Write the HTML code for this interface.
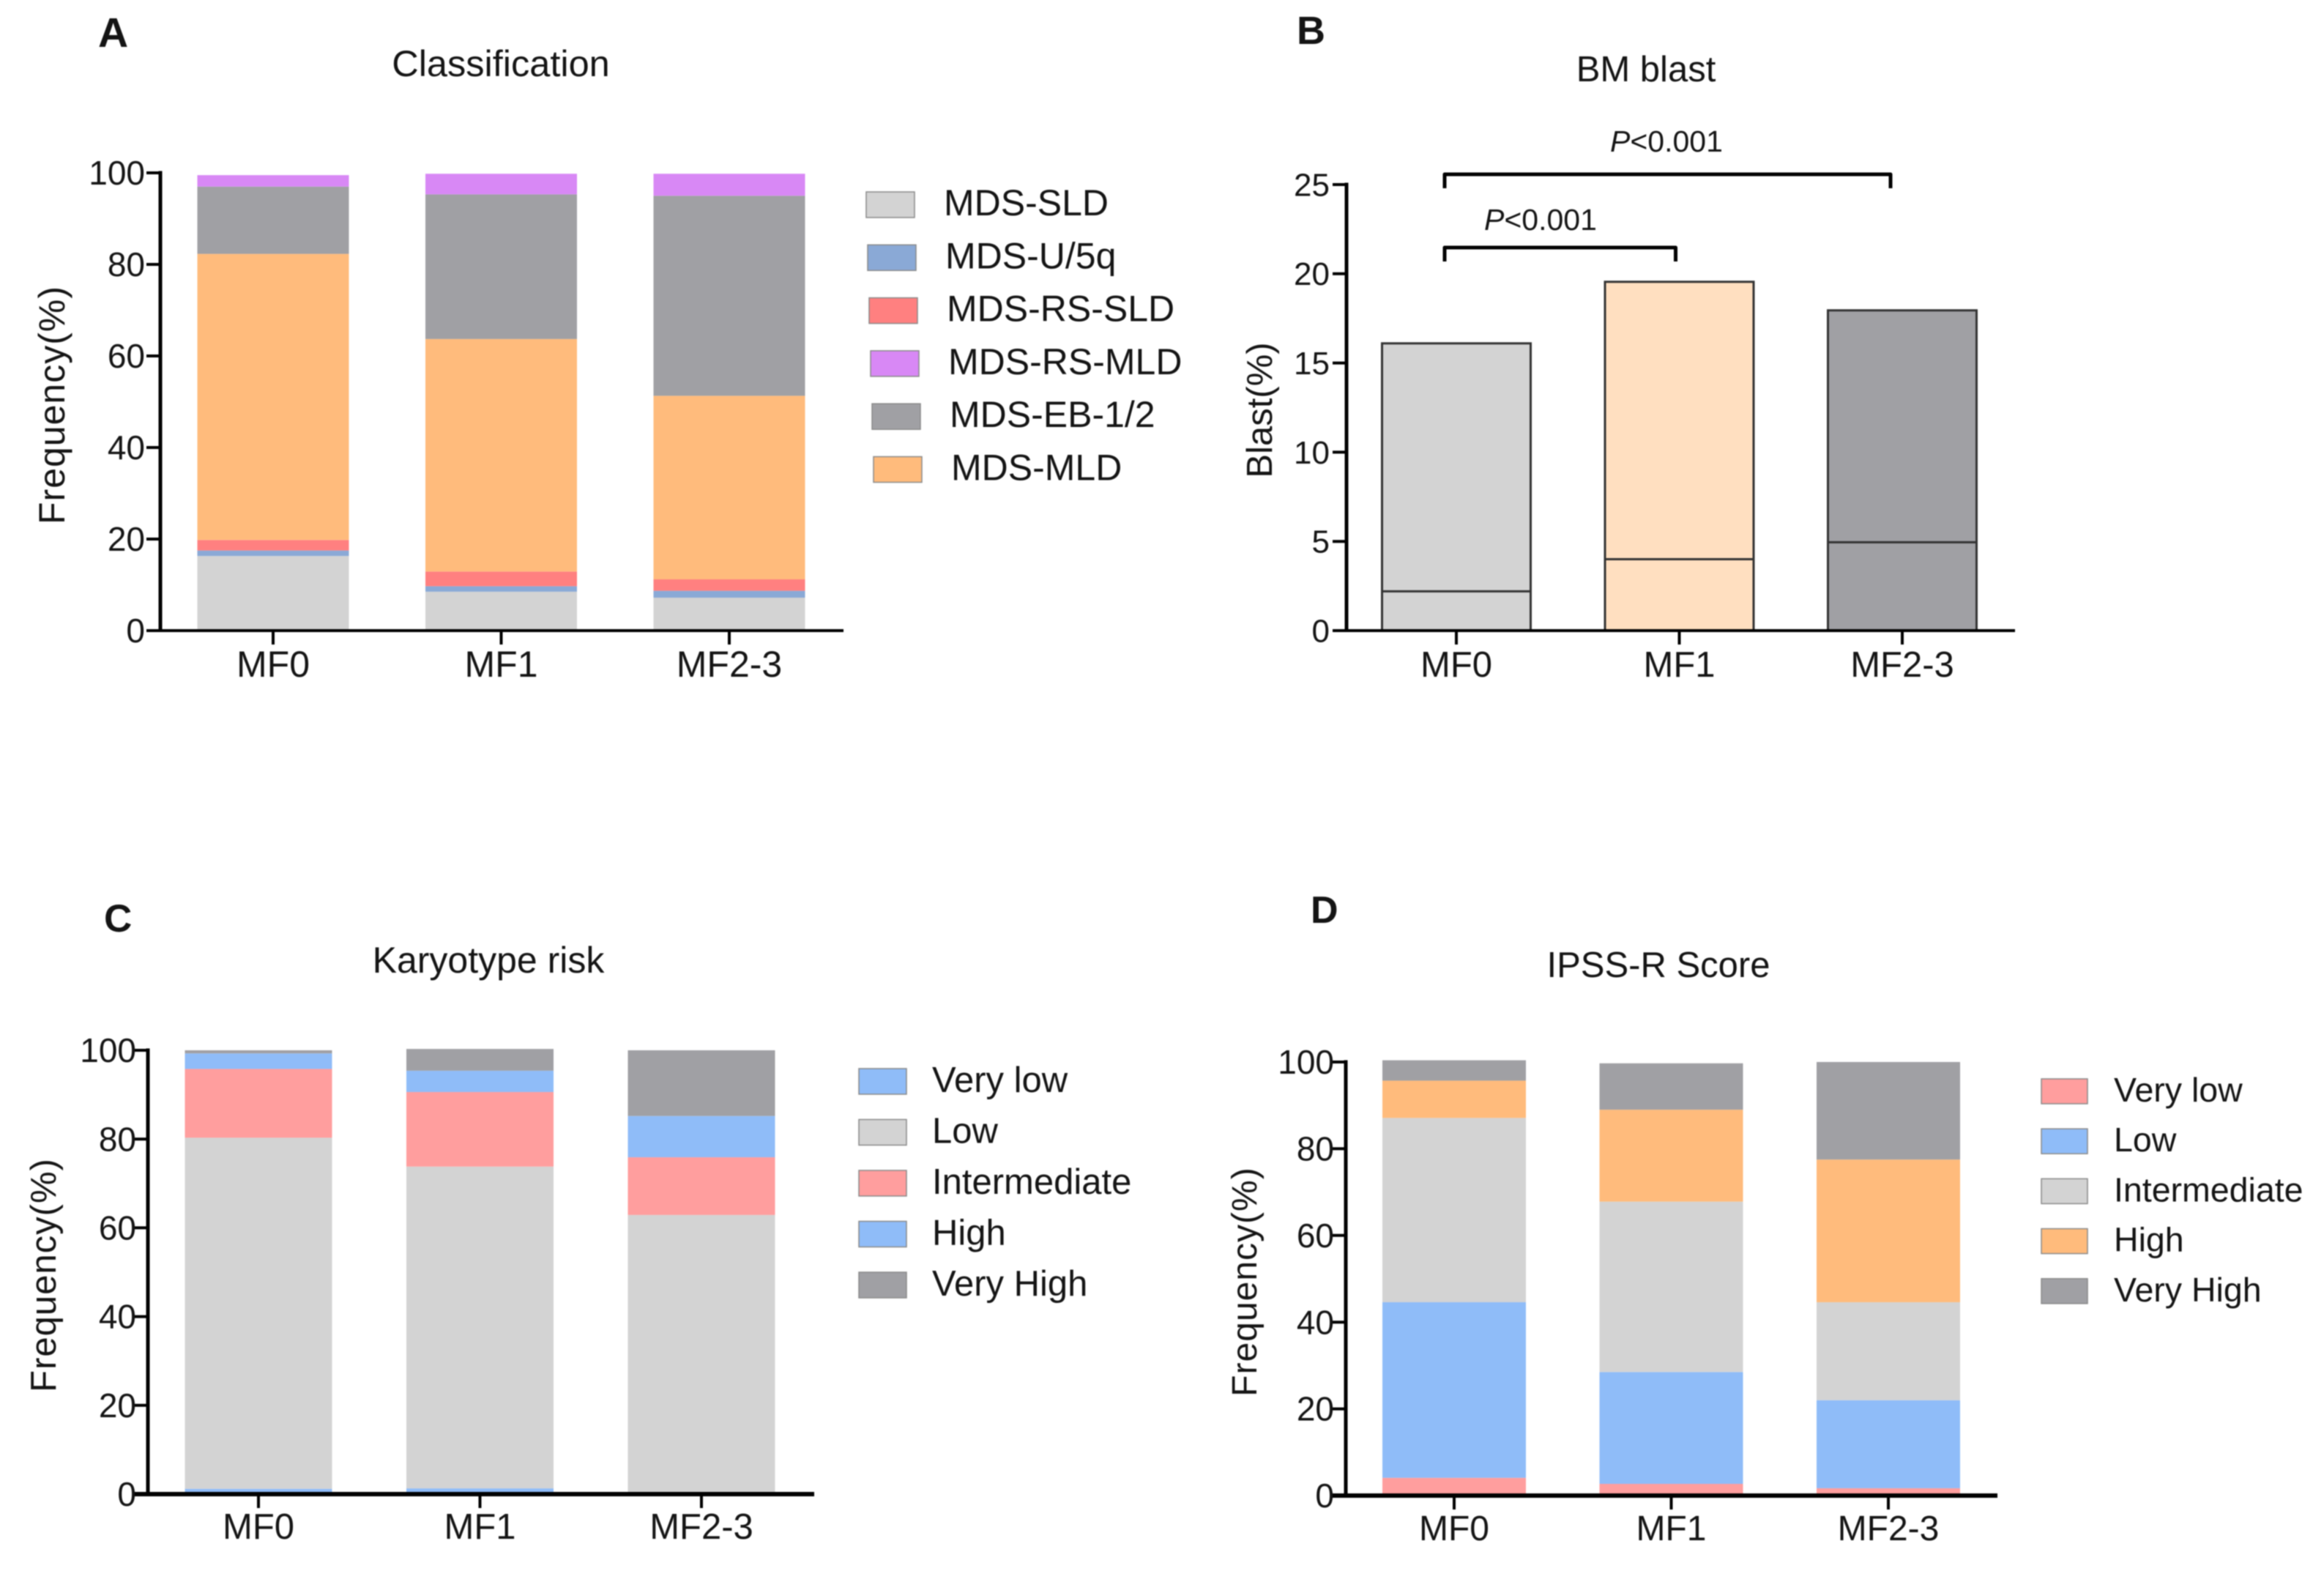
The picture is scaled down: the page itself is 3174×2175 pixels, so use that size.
<!DOCTYPE html>
<html lang="en">
<head>
<meta charset="utf-8">
<title>MF grade charts</title>
<style>
html,body{margin:0;padding:0;background:#fff;}
svg{display:block;filter:blur(0.7px);}
text{font-family:"Liberation Sans",sans-serif;fill:#141414;}
</style>
</head>
<body>
<svg id="figure" xmlns="http://www.w3.org/2000/svg" width="3174" height="2175" viewBox="0 0 3174 2175">
<rect x="0" y="0" width="3174" height="2175" fill="#ffffff"></rect>
</svg>
<script>
// ---------- Data ----------
const categories = ['MF0', 'MF1', 'MF2-3'];
const frequencyTicks = [0, 20, 40, 60, 80, 100];
const blastTicks = [0, 5, 10, 15, 20, 25];

// Panel A: segment sizes per category, bottom to top
const classSeriesNames = ['MDS-SLD', 'MDS-U/5q', 'MDS-RS-SLD', 'MDS-MLD', 'MDS-EB-1/2', 'MDS-RS-MLD'];
const classSLD = [16.3, 8.5, 7.2];
const classU5q = [1.2, 1.2, 1.5];
const classRSSLD = [2.3, 3.2, 2.5];
const classMLD = [62.5, 50.8, 40.1];
const classEB = [14.7, 31.6, 43.7];
const classRSMLD = [2.5, 4.5, 4.8];
const classLegend = ['MDS-SLD', 'MDS-U/5q', 'MDS-RS-SLD', 'MDS-RS-MLD', 'MDS-EB-1/2', 'MDS-MLD'];

// Panel B
const blastMean = [16.1, 19.55, 17.95];
const blastMedian = [2.2, 4.0, 4.95];

// Panel C
const karyoSeriesNames = ['Very low', 'Low', 'Intermediate', 'High', 'Very High'];
const karyoVeryLow = [1.2, 1.3, 0];
const karyoLow = [79.1, 72.5, 62.9];
const karyoIntermediate = [15.5, 16.8, 13.0];
const karyoHigh = [3.5, 4.8, 9.3];
const karyoVeryHigh = [0.7, 4.9, 14.8];

// Panel D
const ipssSeriesNames = ['Very low', 'Low', 'Intermediate', 'High', 'Very High'];
const ipssVeryLow = [4.1, 2.7, 1.7];
const ipssLow = [40.5, 25.8, 20.3];
const ipssIntermediate = [42.5, 39.3, 22.6];
const ipssHigh = [8.6, 21.2, 32.9];
const ipssVeryHigh = [4.7, 10.7, 22.5];

// ---------- Colours ----------
const GRAY = '#d3d3d3', DARK = '#a0a0a4', ORANGE = '#ffbb7c', PINK = '#ff9e9e', SKY = '#8fbcf8';
const classColors = {'MDS-SLD': GRAY, 'MDS-U/5q': '#8aa9d6', 'MDS-RS-SLD': '#ff8080', 'MDS-RS-MLD': '#d888f5', 'MDS-EB-1/2': DARK, 'MDS-MLD': ORANGE};
const karyoColors = [SKY, GRAY, PINK, SKY, DARK];
const ipssColors = [PINK, SKY, GRAY, ORANGE, DARK];

// ---------- Helpers ----------
const SVGNS = 'http://www.w3.org/2000/svg';
const root = document.getElementById('figure');
function make(parent, tag, props) {
  const node = document.createElementNS(SVGNS, tag);
  for (const k in props) node.setAttribute(k, props[k]);
  parent.appendChild(node);
  return node;
}
function label(parent, str, x, y, size, anchor, weight) {
  const node = make(parent, 'text', {x: x, y: y, 'font-size': size, 'text-anchor': anchor || 'start', 'font-weight': weight || 'normal'});
  node.textContent = str;
  return node;
}
function slug(s) {
  return s.toLowerCase().replace(/[^a-z0-9]+/g, '-');
}
function yScale(p, v) {
  return p.y0 - v * (p.y0 - p.yTop) / p.max;
}
function xCenter(p, i) {
  return p.c0 + i * p.step;
}

function drawFrame(p, group, ticks) {
  const letter = label(group, p.letter, p.letterX, p.letterY, p.letterSize, 'start', 'bold');
  
  

  const title = label(group, p.title, p.titleX, p.titleY, p.titleSize, 'middle');
  
  

  const yTitle = label(group, p.yTitle, 0, 0, p.yTitleSize, 'middle');
  yTitle.setAttribute('transform', 'translate(' + p.yTitleX + ',' + p.yTitleY + ') rotate(-90)');
  yTitle.setAttribute('letter-spacing', p.yTitleSpacing);
  
  

  const yAxis = make(group, 'line', {x1: p.left, x2: p.left, y1: p.yTop - p.axisW / 2, y2: p.y0, stroke: '#000', 'stroke-width': p.axisW});
  
  

  const xAxis = make(group, 'line', {x1: p.left - p.tickLen, x2: p.right, y1: p.y0, y2: p.y0, stroke: '#000', 'stroke-width': p.xAxisW});
  
  

  ticks.forEach(function (t) {
    const yy = yScale(p, t);
    const tick = make(group, 'line', {x1: p.left - p.tickLen, x2: p.left, y1: yy, y2: yy, stroke: '#000', 'stroke-width': 4});
    
    
    const tl = label(group, String(t), p.left - p.tickLen - p.tickGap, yy + p.tickSize * 0.35, p.tickSize, 'end');
    
    
  });

  categories.forEach(function (c, i) {
    const xx = xCenter(p, i);
    const tick = make(group, 'line', {x1: xx, x2: xx, y1: p.y0, y2: p.y0 + p.tickLen, stroke: '#000', 'stroke-width': 4});
    
    
    const tl = label(group, c, xx, p.xLabelY, p.xLabelSize, 'middle');
    
    
  });
}

function drawStack(p, group, names, series, colorOf) {
  categories.forEach(function (c, i) {
    let base = 0;
    series.forEach(function (values, s) {
      const top = base + values[i];
      const yTopPx = yScale(p, top);
      const bar = make(group, 'rect', {
        x: xCenter(p, i) - p.barW / 2,
        y: yTopPx,
        width: p.barW,
        height: Math.max(0, yScale(p, base) - yTopPx),
        fill: colorOf(s)
      });
      
      
      base = top;
    });
  });
}

function drawLegend(p, group, names, colorOf) {
  const L = p.legend;
  names.forEach(function (n, i) {
    const sy = L.y + i * L.dy;
    const sw = make(group, 'rect', {x: L.x + i * L.dx, y: sy, width: L.w, height: L.h, fill: colorOf(i), stroke: '#8a8a8a', 'stroke-width': 1.5});
    
    
    const t = label(group, n, L.tx + i * L.dx, sy + L.h - 3, L.size);
    
    
  });
}

// ---------- Panel A ----------
const panelA = {letter: 'A', letterX: 134, letterY: 64, letterSize: 57,
  title: 'Classification', titleX: 684, titleY: 104, titleSize: 50.5,
  yTitle: 'Frequency(%)', yTitleX: 88, yTitleY: 553, yTitleSize: 50, yTitleSpacing: 1,
  left: 219, right: 1152, y0: 861, yTop: 236, max: 100, axisW: 5, xAxisW: 4, tickLen: 19, tickGap: 2, tickSize: 46,
  c0: 373, step: 311.5, barW: 207, xLabelY: 924, xLabelSize: 50,
  legend: {x: 1183, y: 262, dx: 2, dy: 72.3, w: 66, h: 35, tx: 1289, size: 50}};
const groupA = make(root, 'g', {});


drawStack(panelA, groupA, classSeriesNames, [classSLD, classU5q, classRSSLD, classMLD, classEB, classRSMLD], function (s) { return classColors[classSeriesNames[s]]; });
drawFrame(panelA, groupA, frequencyTicks);
drawLegend(panelA, groupA, classLegend, function (i) { return classColors[classLegend[i]]; });

// ---------- Panel B ----------
const panelB = {letter: 'B', letterX: 1771, letterY: 60, letterSize: 54,
  title: 'BM blast', titleX: 2248, titleY: 111, titleSize: 49,
  yTitle: 'Blast(%)', yTitleX: 1737, yTitleY: 560, yTitleSize: 49, yTitleSpacing: 0,
  left: 1839, right: 2752, y0: 861, yTop: 252, max: 25, axisW: 5, xAxisW: 4, tickLen: 19, tickGap: 4, tickSize: 44,
  c0: 1989, step: 304.5, barW: 203, xLabelY: 924, xLabelSize: 49};
const blastFill = [GRAY, '#ffdfc0', DARK];
const groupB = make(root, 'g', {});


categories.forEach(function (c, i) {
  const yy = yScale(panelB, blastMean[i]);
  const bar = make(groupB, 'rect', {x: xCenter(panelB, i) - panelB.barW / 2, y: yy, width: panelB.barW, height: panelB.y0 - yy, fill: blastFill[i], stroke: '#333', 'stroke-width': 3});
  
  
  const ym = yScale(panelB, blastMedian[i]);
  const med = make(groupB, 'line', {x1: xCenter(panelB, i) - panelB.barW / 2, x2: xCenter(panelB, i) + panelB.barW / 2, y1: ym, y2: ym, stroke: '#333', 'stroke-width': 3});
  
  
});
drawFrame(panelB, groupB, blastTicks);

function bracket(x1, x2, yy, drop) {
  const b = make(groupB, 'path', {d: 'M' + x1 + ' ' + (yy + drop) + 'V' + yy + 'H' + x2 + 'V' + (yy + drop), fill: 'none', stroke: '#000', 'stroke-width': 5, 'stroke-linejoin': 'round'});
  return b;
}
function pLabel(x, y) {
  const t = label(groupB, '', x, y, 41, 'start');
  const italic = make(t, 'tspan', {'font-style': 'italic'});
  italic.textContent = 'P';
  const rest = make(t, 'tspan', {});
  rest.textContent = '<0.001';
  return t;
}
const bracketTop = bracket(xCenter(panelB, 0) - 16, xCenter(panelB, 2) - 16, 238, 19);


const bracketLow = bracket(xCenter(panelB, 0) - 16, xCenter(panelB, 1) - 5, 338, 19);


const pTop = pLabel(2199, 207);


const pLow = pLabel(2027, 314);



// ---------- Panel C ----------
const panelC = {letter: 'C', letterX: 142, letterY: 1272, letterSize: 53,
  title: 'Karyotype risk', titleX: 667, titleY: 1328, titleSize: 50,
  yTitle: 'Frequency(%)', yTitleX: 76, yTitleY: 1741, yTitleSize: 49, yTitleSpacing: 1,
  left: 202, right: 1112, y0: 2040, yTop: 1434, max: 100, axisW: 5, xAxisW: 6, tickLen: 19, tickGap: -3, tickSize: 46,
  c0: 353, step: 302.5, barW: 201, xLabelY: 2101, xLabelSize: 49,
  legend: {x: 1173, y: 1459, dx: 0, dy: 69.5, w: 65, h: 35, tx: 1273, size: 49}};
const groupC = make(root, 'g', {});


drawStack(panelC, groupC, karyoSeriesNames, [karyoVeryLow, karyoLow, karyoIntermediate, karyoHigh, karyoVeryHigh], function (s) { return karyoColors[s]; });
drawFrame(panelC, groupC, frequencyTicks);
drawLegend(panelC, groupC, karyoSeriesNames, function (i) { return karyoColors[i]; });

// ---------- Panel D ----------
const panelD = {letter: 'D', letterX: 1790, letterY: 1260, letterSize: 52,
  title: 'IPSS-R Score', titleX: 2265, titleY: 1334, titleSize: 49,
  yTitle: 'Frequency(%)', yTitleX: 1716, yTitleY: 1750, yTitleSize: 48, yTitleSpacing: 1,
  left: 1838, right: 2728, y0: 2042, yTop: 1450, max: 100, axisW: 5, xAxisW: 6, tickLen: 19, tickGap: -3, tickSize: 46,
  c0: 1986, step: 296.5, barW: 196, xLabelY: 2103, xLabelSize: 48,
  legend: {x: 2788, y: 1473, dx: 0, dy: 68.2, w: 63, h: 34, tx: 2887, size: 46.5}};
const groupD = make(root, 'g', {});


drawStack(panelD, groupD, ipssSeriesNames, [ipssVeryLow, ipssLow, ipssIntermediate, ipssHigh, ipssVeryHigh], function (s) { return ipssColors[s]; });
drawFrame(panelD, groupD, frequencyTicks);
drawLegend(panelD, groupD, ipssSeriesNames, function (i) { return ipssColors[i]; });
</script>
</body>
</html>
